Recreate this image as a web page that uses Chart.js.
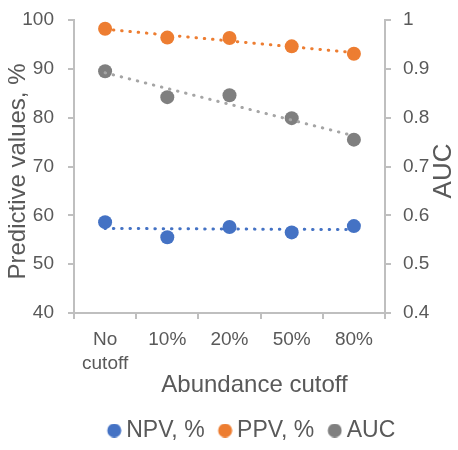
<!DOCTYPE html>
<html><head><meta charset="utf-8">
<script src="https://cdn.jsdelivr.net/npm/chart.js@4"></script>
<style>html,body{margin:0;padding:0;background:#fff}#wrap{width:458px;height:450px}</style>
</head><body><div id="wrap"><canvas id="c" width="458" height="450"></canvas></div>
<script>
const categories = [["No","cutoff"], "10%", "20%", "50%", "80%"];
const npv = [58.6, 55.5, 57.6, 56.5, 57.8];
const ppv = [98.2, 96.4, 96.3, 94.6, 93.1];
const auc = [0.895, 0.842, 0.846, 0.799, 0.755];
const seriesNames = ["NPV, %", "PPV, %", "AUC"];
const axisTitles = {x: "Abundance cutoff", y: "Predictive values, %", y1: "AUC"};
const leftTicks = {min: 40, max: 100, step: 10};
const rightTicks = {min: 0.4, max: 1.0, step: 0.1};

function trend(vals){
  const n = vals.length; let sx=0, sy=0, sxy=0, sxx=0;
  vals.forEach((v,i)=>{sx+=i;sy+=v;sxy+=i*v;sxx+=i*i;});
  const b=(n*sxy-sx*sy)/(n*sxx-sx*sx), a=(sy-b*sx)/n;
  return vals.map((v,i)=>a+b*i);
}
const txt = '#595959', axisCol = '#BFBFBF';
const FONT = "'Liberation Sans', Arial, sans-serif";
const PLOT = {left: 74, right: 385, top: 20, bottom: 313};
const dotted = {borderWidth: 3, borderCapStyle: 'round', borderDash: [0.5, 7.8], pointRadius: 0, fill: false, order: 0};

function makeDot(color){
  const c = document.createElement('canvas'); c.width = 24; c.height = 14;
  const g = c.getContext('2d'); g.fillStyle = color;
  g.beginPath(); g.arc(16.5, 7, 7, 0, Math.PI*2); g.fill();
  return c;
}
function noPad(s){ s.paddingTop = 0; s.paddingBottom = 0; s.paddingLeft = 0; s.paddingRight = 0; }

const titlePlugin = {
  id: 'titles',
  afterLayout(chart){
    const lg = chart.legend; const dx = 21, dy = 2;
    lg.left += dx; lg.right += dx; lg.top += dy; lg.bottom += dy;
  },
  afterDraw(chart){
    const ctx = chart.ctx;
    ctx.save();
    ctx.fillStyle = txt; ctx.font = "24px " + FONT;
    ctx.textAlign = 'center'; ctx.textBaseline = 'middle';
    ctx.fillText(axisTitles.x, 254.5, 385);
    ctx.save(); ctx.translate(18, 171.5); ctx.rotate(-Math.PI/2);
    ctx.fillText(axisTitles.y, 0, 0); ctx.restore();
    ctx.font = "26px " + FONT;
    ctx.save(); ctx.translate(444, 171); ctx.rotate(-Math.PI/2);
    ctx.fillText(axisTitles.y1, 0, 0); ctx.restore();
    ctx.restore();
  }
};

new Chart(document.getElementById('c'), {
  type: 'line',
  data: {
    labels: categories,
    datasets: [
      {label: seriesNames[0], data: npv, yAxisID: 'y', showLine: false, pointRadius: 7, backgroundColor: '#4472C4', borderColor: '#4472C4', pointBorderWidth: 0, order: 1},
      {label: seriesNames[1], data: ppv, yAxisID: 'y', showLine: false, pointRadius: 7, backgroundColor: '#ED7D31', borderColor: '#ED7D31', pointBorderWidth: 0, order: 1},
      {label: seriesNames[2], data: auc, yAxisID: 'y1', showLine: false, pointRadius: 7, backgroundColor: '#7F7F7F', borderColor: '#7F7F7F', pointBorderWidth: 0, order: 1},
      Object.assign({label: 'NPV trend', data: trend(npv), yAxisID: 'y', borderColor: '#4472C4'}, dotted),
      Object.assign({label: 'PPV trend', data: trend(ppv), yAxisID: 'y', borderColor: '#ED7D31'}, dotted),
      Object.assign({label: 'AUC trend', data: trend(auc), yAxisID: 'y1', borderColor: '#A5A5A5'}, dotted)
    ]
  },
  plugins: [titlePlugin],
  options: {
    responsive: false, animation: false, events: [],
    layout: {padding: {top: PLOT.top, left: 0, right: 0, bottom: 0}},
    plugins: {
      tooltip: {enabled: false},
      legend: {position: 'bottom',
        labels: {
          generateLabels: (chart) => Chart.defaults.plugins.legend.labels.generateLabels(chart)
            .filter(it => it.datasetIndex < 3)
            .map(it => Object.assign({}, it, {pointStyle: makeDot(it.fillStyle)})),
          usePointStyle: true, boxWidth: 10, boxHeight: 10, padding: 11, color: txt, font: {family: FONT, size: 23}}}
    },
    scales: {
      x: {
        offset: true,
        afterFit: (s) => { s.height = 406 - PLOT.bottom; noPad(s); },
        grid: {offset: true, drawOnChartArea: false, drawTicks: true, tickLength: 6, color: axisCol, lineWidth: 2},
        border: {color: axisCol, width: 2},
        ticks: {color: txt, font: {family: FONT, size: 19, lineHeight: 1.26}, maxRotation: 0, padding: 9}
      },
      y: {
        position: 'left', min: leftTicks.min, max: leftTicks.max,
        afterFit: (s) => { s.width = PLOT.left; noPad(s); },
        grid: {drawOnChartArea: false, drawTicks: true, tickLength: 6, color: axisCol, lineWidth: 2},
        border: {color: axisCol, width: 2},
        ticks: {stepSize: leftTicks.step, color: txt, font: {family: FONT, size: 19}, padding: 14}
      },
      y1: {
        position: 'right', min: rightTicks.min, max: rightTicks.max,
        afterFit: (s) => { s.width = 458 - PLOT.right; noPad(s); },
        grid: {drawOnChartArea: false, drawTicks: true, tickLength: 6, color: axisCol, lineWidth: 2},
        border: {color: axisCol, width: 2},
        ticks: {stepSize: rightTicks.step, color: txt, font: {family: FONT, size: 19}, padding: 12,
          callback: (v) => String(Math.round(v*10)/10)}
      }
    }
  }
});
</script></body></html>
